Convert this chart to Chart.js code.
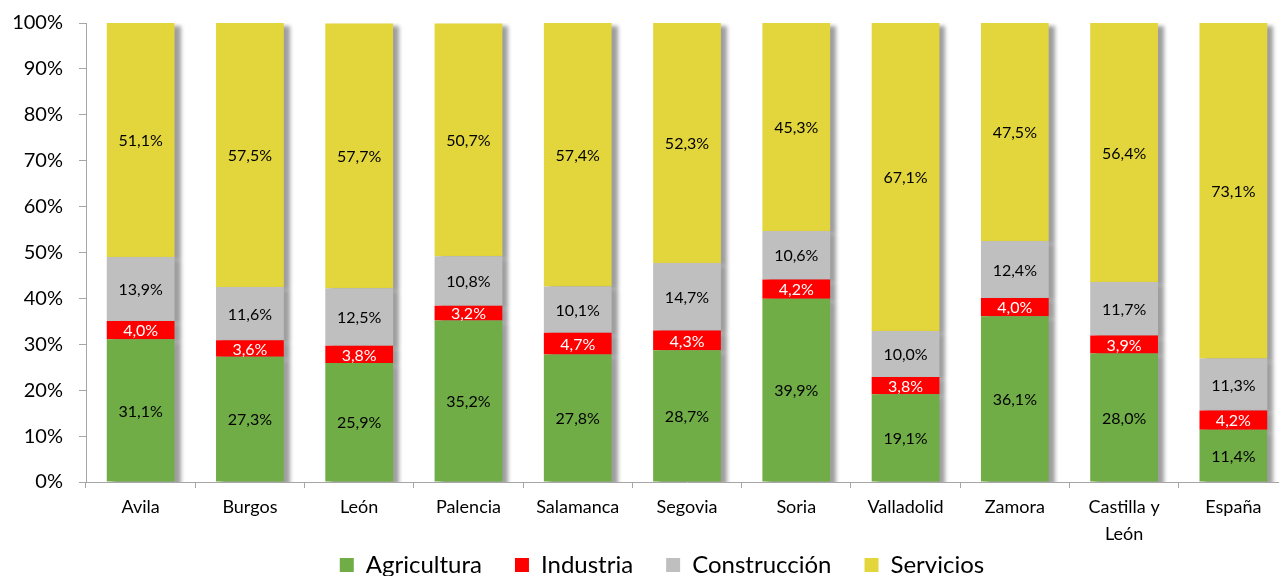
<!doctype html>
<html lang="es">
<head>
  <meta charset="utf-8">
  <title>Ocupados por sector</title>
  <script src="https://cdn.jsdelivr.net/npm/chart.js@4/dist/chart.umd.min.js"></script>
  <style>
    html, body { margin: 0; padding: 0; background: #fff; overflow: hidden; }
    .grafico { position: relative; width: 1324px; height: 576px; }
  </style>
</head>
<body>
<div class="grafico">
  <canvas id="myChart"></canvas>
</div>

<script>
var provincias = ['Avila', 'Burgos', 'León', 'Palencia', 'Salamanca', 'Segovia', 'Soria', 'Valladolid', 'Zamora', ['Castilla y', 'León'], 'España'];
var agricultura  = [31.1, 27.3, 25.9, 35.2, 27.8, 28.7, 39.9, 19.1, 36.1, 28.0, 11.4];
var industria    = [4.0, 3.6, 3.8, 3.2, 4.7, 4.3, 4.2, 3.8, 4.0, 3.9, 4.2];
var construccion = [13.9, 11.6, 12.5, 10.8, 10.1, 14.7, 10.6, 10.0, 12.4, 11.7, 11.3];
var servicios    = [51.1, 57.5, 57.7, 50.7, 57.4, 52.3, 45.3, 67.1, 47.5, 56.4, 73.1];

var fuente = 'Lato, "Open Sans", sans-serif';

// sombra a la derecha de las barras + etiquetas de valor
var sombraYEtiquetas = {
  id: 'sombraYEtiquetas',
  beforeLayout: function(chart) {
    // la leyenda ocupa menos alto para bajar el texto
    var lg = chart.legend;
    if (lg && !lg._ajustada) {
      var fitOrig = lg.fit;
      lg.fit = function() {
        fitOrig.call(this);
        this.height = 56;
      };
      lg._ajustada = true;
    }
  },
  beforeDatasetsDraw: function(chart) {
    var ctx = chart.ctx;
    ctx.save();
    ctx.shadowColor = 'rgba(0,0,0,0.38)';
    ctx.shadowOffsetX = 6;
    ctx.shadowOffsetY = 3;
    ctx.shadowBlur = 4;
  },
  afterDatasetsDraw: function(chart) {
    var ctx = chart.ctx;
    ctx.restore();
    ctx.save();
    ctx.font = '16px ' + fuente;
    ctx.textAlign = 'center';
    ctx.textBaseline = 'middle';
    chart.data.datasets.forEach(function(ds, i) {
      var meta = chart.getDatasetMeta(i);
      meta.data.forEach(function(bar, j) {
        var v = ds.data[j];
        ctx.fillStyle = ds.labelColor;
        ctx.fillText(v.toFixed(1).replace('.', ',') + '%', bar.x, (bar.y + bar.base) / 2 + 1);
      });
    });
    ctx.restore();
  }
};

var ctx = document.getElementById('myChart').getContext('2d');
var myChart = new Chart(ctx, {
  type: 'bar',
  data: {
    labels: provincias,
    datasets: [
      { label: 'Agricultura', data: agricultura, backgroundColor: '#70AD47', labelColor: '#000' },
      { label: 'Industria', data: industria, backgroundColor: '#FF0000', labelColor: '#fff' },
      { label: 'Construcción', data: construccion, backgroundColor: '#BFBFBF', labelColor: '#000' },
      { label: 'Servicios', data: servicios, backgroundColor: '#E3D63D', labelColor: '#000' }
    ]
  },
  options: {
    responsive: true,
    maintainAspectRatio: false,
    animation: false,
    datasets: { bar: { categoryPercentage: 1, barPercentage: 0.62 } },
    layout: { padding: { top: 23, left: 0, right: 0, bottom: 0 } },
    plugins: {
      tooltip: { enabled: false },
      legend: {
        position: 'bottom',
        labels: {
          font: { family: fuente, size: 24 },
          color: '#000',
          boxWidth: 14,
          boxHeight: 14,
          padding: 33
        }
      }
    },
    scales: {
      x: {
        stacked: true,
        border: { color: '#A6A6A6', width: 1 },
        grid: { display: true, drawOnChartArea: false, tickLength: 6, color: '#A6A6A6', offset: true },
        ticks: { font: { family: fuente, size: 18, lineHeight: 1.5 }, color: '#000', padding: 6, maxRotation: 0 },
        afterFit: function(s) {
          s.height = 38;
          s.paddingLeft = 0;
          s.paddingRight = 0;
          // sin recorte para que se vea la segunda linea de "Castilla y León"
          s._computeLabelArea = function() { return undefined; };
        }
      },
      y: {
        stacked: true,
        min: 0,
        max: 100,
        border: { color: '#A6A6A6', width: 1 },
        grid: { display: true, drawOnChartArea: false, tickLength: 7, color: '#A6A6A6' },
        ticks: {
          stepSize: 10,
          font: { family: fuente, size: 20 },
          color: '#000',
          padding: 16,
          callback: function(v) { return v + '%'; }
        },
        afterFit: function(s) { s.width = 86; s.paddingTop = 0; s.paddingBottom = 0; }
      },
      y2: {
        position: 'right',
        display: true,
        grid: { display: false },
        border: { display: false },
        ticks: { display: false },
        afterFit: function(s) { s.width = 36; s.paddingTop = 0; s.paddingBottom = 0; }
      }
    }
  },
  plugins: [sombraYEtiquetas]
});
</script>
</body>
</html>
